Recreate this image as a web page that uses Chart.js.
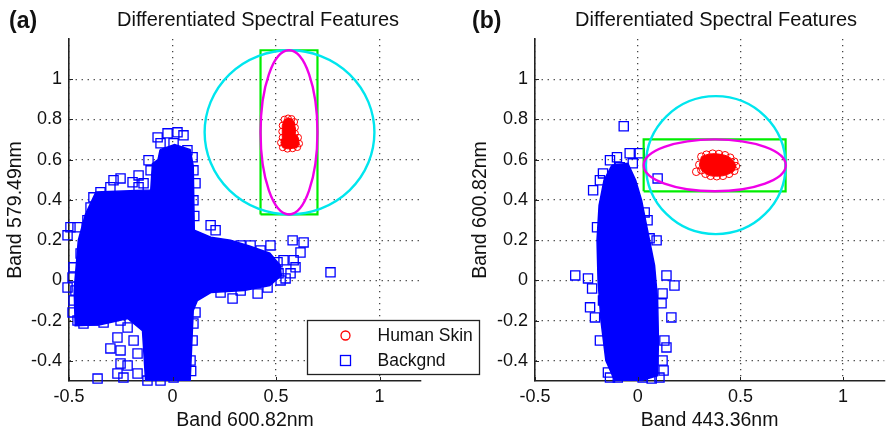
<!DOCTYPE html>
<html>
<head>
<meta charset="utf-8">
<script src="https://cdn.jsdelivr.net/npm/chart.js@4/dist/chart.umd.min.js"></script>
<style>
  html, body { margin: 0; padding: 0; background: #fff; }
  #wrap { position: relative; width: 892px; height: 434px; }
  #wrap canvas { position: absolute; left: 0; top: 0; }
</style>
</head>
<body>
<div id="wrap">
  <canvas id="panelA" width="892" height="434"></canvas>
  <canvas id="panelB" width="892" height="434"></canvas>
</div>
<script>
// ---- shared axis settings ----
const axisMin = -0.5;
const axisMax = 1.2;
const xTicks = [-0.5, 0, 0.5, 1];
const yTicks = [-0.4, -0.2, 0, 0.2, 0.4, 0.6, 0.8, 1];
const plotTitle = 'Differentiated Spectral Features';
const seriesNames = ['Human Skin', 'Backgnd'];

// ---- panel (a): Band 600.82nm vs Band 579.49nm ----
// outline of the dense background cloud
const bgCloudA = [
  [-0.06, 0.65], [0.01, 0.675], [0.085, 0.65], [0.10, 0.57], [0.105, 0.25],
  [0.185, 0.215], [0.28, 0.20], [0.375, 0.17], [0.47, 0.135], [0.52, 0.075],
  [0.525, 0.025], [0.47, -0.025], [0.345, -0.05], [0.185, -0.06], [0.12, -0.10],
  [0.10, -0.15], [0.085, -0.50], [-0.13, -0.50], [-0.145, -0.25], [-0.215, -0.19],
  [-0.35, -0.22], [-0.47, -0.225], [-0.475, -0.05], [-0.455, 0.20], [-0.42, 0.33],
  [-0.37, 0.44], [-0.105, 0.45], [-0.097, 0.58], [-0.07, 0.60]
];
// individual background samples around the cloud
const bgPointsA = [
  [-0.072, 0.711], [-0.024, 0.731], [0.024, 0.736], [0.053, 0.721], [-0.058, 0.682],
  [0.005, 0.682], [0.072, 0.647], [0.097, 0.612], [0.101, 0.547], [0.111, 0.483],
  [0.101, 0.398], [0.105, 0.32], [-0.116, 0.597], [-0.106, 0.547], [-0.164, 0.522],
  [-0.193, 0.488], [-0.251, 0.507], [-0.285, 0.498], [-0.300, 0.463], [-0.164, 0.463],
  [-0.140, 0.483], [-0.348, 0.438], [-0.382, 0.413], [-0.396, 0.363], [-0.411, 0.299],
  [-0.493, 0.264], [-0.459, 0.264], [-0.507, 0.224], [-0.420, 0.184], [-0.382, 0.164],
  [-0.444, 0.134], [-0.478, 0.065], [-0.483, 0.015], [-0.507, -0.035], [-0.469, -0.050],
  [-0.478, -0.100], [-0.483, -0.159], [-0.459, -0.199], [-0.430, -0.214], [-0.382, -0.199],
  [-0.333, -0.209], [-0.251, -0.199], [-0.217, -0.234], [-0.266, -0.284], [-0.300, -0.338],
  [-0.251, -0.348], [-0.188, -0.299], [-0.169, -0.363], [-0.251, -0.413], [-0.217, -0.423],
  [-0.266, -0.463], [-0.237, -0.483], [-0.362, -0.488], [-0.169, -0.463], [-0.121, -0.498],
  [-0.058, -0.498], [0.005, -0.483], [0.039, -0.463], [0.097, -0.299], [0.101, -0.214],
  [0.111, -0.159], [0.087, -0.398], [0.09, -0.45],
  [0.184, 0.274], [0.208, 0.249], [0.329, 0.174], [0.377, 0.174], [0.425, 0.149],
  [0.473, 0.174], [0.580, 0.199], [0.633, 0.189], [0.618, 0.139], [0.585, 0.100],
  [0.536, 0.100], [0.507, 0.090], [0.594, 0.065], [0.570, 0.035], [0.546, 0.010],
  [0.512, 0.035], [0.522, 0.000], [0.763, 0.040], [0.290, -0.090], [0.411, -0.065],
  [0.232, -0.060], [0.329, -0.050], [0.459, -0.035]
];
// boundary samples of the dense skin cluster (also its filled outline)
const skinCloudA = [
  [0.54, 0.80], [0.558, 0.806], [0.575, 0.803], [0.588, 0.788], [0.592, 0.76],
  [0.592, 0.73], [0.607, 0.71], [0.612, 0.68], [0.603, 0.662], [0.58, 0.656],
  [0.555, 0.654], [0.532, 0.661], [0.523, 0.685], [0.531, 0.71], [0.529, 0.74], [0.531, 0.77]
];
const skinPointsA = [
  [0.54, 0.80], [0.558, 0.806], [0.575, 0.803], [0.588, 0.788], [0.592, 0.76],
  [0.592, 0.73], [0.607, 0.71], [0.612, 0.68], [0.603, 0.662], [0.58, 0.656],
  [0.555, 0.654], [0.532, 0.661], [0.523, 0.685], [0.531, 0.71], [0.529, 0.74], [0.531, 0.77]
];
// decision regions: [centre x, centre y, radius x, radius y] and [x0, x1, y0, y1]
const ringA = [0.565, 0.736, 0.41, 0.408];
const ellipseA = [0.5625, 0.736, 0.1375, 0.408];
const boxA = [0.425, 0.70, 0.328, 1.144];

// ---- panel (b): Band 443.36nm vs Band 600.82nm ----
const bgCloudB = [
  [-0.126, 0.572], [-0.048, 0.582], [-0.010, 0.498], [0.019, 0.398], [0.048, 0.249],
  [0.082, 0.075], [0.097, -0.100], [0.101, -0.299], [0.097, -0.473], [0.010, -0.50],
  [-0.111, -0.50], [-0.155, -0.398], [-0.179, -0.199], [-0.193, 0.000], [-0.198, 0.199],
  [-0.188, 0.373], [-0.164, 0.498]
];
const bgPointsB = [
  [-0.068, 0.766], [0.097, 0.507], [-0.169, 0.532], [-0.217, 0.448], [-0.198, 0.264],
  [0.034, 0.338], [0.048, 0.299], [0.010, 0.632], [-0.039, 0.632], [-0.024, 0.582],
  [-0.101, 0.612], [-0.087, 0.562], [-0.135, 0.597], [-0.184, 0.498], [0.092, 0.199],
  [0.058, 0.209], [-0.304, 0.025], [-0.242, 0.010], [-0.222, -0.040], [-0.232, -0.134],
  [-0.208, -0.184], [0.140, 0.025], [0.179, -0.025], [0.121, -0.065], [0.116, -0.114],
  [0.164, -0.184], [0.130, -0.299], [0.140, -0.333], [0.121, -0.398], [-0.145, -0.458],
  [-0.097, -0.483], [0.106, -0.483], [0.024, -0.483], [-0.135, -0.483], [0.068, -0.488],
  [0.126, -0.448], [-0.184, -0.299], [-0.169, -0.100]
];
const skinCloudB = [
  [0.31, 0.615], [0.335, 0.625], [0.365, 0.63], [0.395, 0.628], [0.425, 0.622],
  [0.45, 0.61], [0.47, 0.59], [0.478, 0.568], [0.47, 0.545], [0.445, 0.53],
  [0.415, 0.52], [0.385, 0.518], [0.355, 0.52], [0.33, 0.53], [0.31, 0.548], [0.30, 0.575]
];
const skinPointsB = [
  [0.31, 0.615], [0.335, 0.625], [0.365, 0.63], [0.395, 0.628], [0.425, 0.622],
  [0.45, 0.61], [0.47, 0.59], [0.478, 0.568], [0.47, 0.545], [0.445, 0.53],
  [0.415, 0.52], [0.385, 0.518], [0.355, 0.52], [0.33, 0.53], [0.31, 0.548],
  [0.30, 0.575], [0.285, 0.54]
];
const ringB = [0.38, 0.573, 0.34, 0.343];
const ellipseB = [0.375, 0.572, 0.346, 0.129];
const boxB = [0.029, 0.72, 0.443, 0.701];

// ---- drawing ----
const FONT = '"Liberation Sans", Arial, Helvetica, sans-serif';
const INK = '#111';
const BLUE = '#0000ff';
const RED = '#ff0000';
const CYAN = '#00e6ee';
const MAGENTA = '#f000e8';
const GREEN = '#00ee00';
Chart.defaults.font.family = FONT;

const toXY = list => list.map(([x, y]) => ({ x, y }));
const closed = list => list.concat([list[0]]);
const boxPath = ([x0, x1, y0, y1]) => [[x0, y0], [x1, y0], [x1, y1], [x0, y1], [x0, y0]];

// ellipses and circles drawn in data units through the chart scales
const ringPlugin = {
  id: 'rings',
  afterDatasetsDraw(chart, args, opts) {
    const { ctx, scales: { x, y } } = chart;
    ctx.save();
    for (const r of opts.items || []) {
      const [cx, cy, rx, ry] = r.geom;
      const px = x.getPixelForValue(cx);
      const py = y.getPixelForValue(cy);
      const prx = Math.abs(x.getPixelForValue(cx + rx) - px);
      const pry = Math.abs(y.getPixelForValue(cy + ry) - py);
      ctx.beginPath();
      ctx.ellipse(px, py, prx, pry, 0, 0, Math.PI * 2);
      ctx.strokeStyle = r.color;
      ctx.lineWidth = r.width;
      ctx.stroke();
    }
    ctx.restore();
  }
};

// inward tick marks, panel tag and heading
const framePlugin = {
  id: 'frame',
  afterDraw(chart, args, opts) {
    const { ctx, chartArea: a, scales: { x, y } } = chart;
    ctx.save();
    ctx.strokeStyle = '#222';
    ctx.lineWidth = 1;
    ctx.beginPath();
    for (const v of xTicks) {
      const px = Math.round(x.getPixelForValue(v)) + 0.5;
      ctx.moveTo(px, a.bottom);
      ctx.lineTo(px, a.bottom - 4);
    }
    for (const v of yTicks) {
      const py = Math.round(y.getPixelForValue(v)) + 0.5;
      ctx.moveTo(a.left, py);
      ctx.lineTo(a.left + 4, py);
    }
    ctx.stroke();
    ctx.fillStyle = INK;
    ctx.textBaseline = 'middle';
    ctx.textAlign = 'left';
    ctx.font = 'bold 23px ' + FONT;
    ctx.fillText(opts.tag, opts.tagX, 22);
    ctx.textAlign = 'center';
    ctx.font = '20px ' + FONT;
    ctx.fillText(plotTitle, opts.titleX, 20);
    ctx.restore();
  }
};

// boxed key with both series
const keyPlugin = {
  id: 'key',
  afterDraw(chart, args, opts) {
    if (!opts.show) return;
    const { ctx } = chart;
    const [bx, by, bw, bh] = opts.box;
    ctx.save();
    ctx.fillStyle = '#fff';
    ctx.fillRect(bx, by, bw, bh);
    ctx.strokeStyle = '#222';
    ctx.lineWidth = 1.3;
    ctx.strokeRect(bx, by, bw, bh);
    const mx = bx + 38;
    const r1 = by + 15, r2 = by + 40;
    ctx.lineWidth = 1.3;
    ctx.strokeStyle = RED;
    ctx.beginPath();
    ctx.arc(mx, r1, 4.5, 0, Math.PI * 2);
    ctx.stroke();
    ctx.strokeStyle = BLUE;
    ctx.strokeRect(mx - 5, r2 - 5, 10, 10);
    ctx.fillStyle = INK;
    ctx.font = '17.5px ' + FONT;
    ctx.textAlign = 'left';
    ctx.textBaseline = 'middle';
    ctx.fillText(seriesNames[0], bx + 70, r1 + 1);
    ctx.fillText(seriesNames[1], bx + 70, r2 + 1);
    ctx.restore();
  }
};

function makePanel(id, p) {
  const tickFont = { size: 18 };
  return new Chart(document.getElementById(id), {
    type: 'scatter',
    data: {
      datasets: [
        {
          type: 'line', label: seriesNames[1], data: toXY(closed(p.bgCloud)),
          fill: 'shape', borderColor: BLUE, backgroundColor: BLUE, borderWidth: 1.5,
          pointRadius: 0, tension: 0, order: 6
        },
        {
          type: 'scatter', label: seriesNames[1], data: toXY(p.bgPoints),
          pointStyle: 'rect', pointRadius: 6.5, borderColor: BLUE,
          backgroundColor: 'rgba(0,0,0,0)', borderWidth: 1.3, clip: false, order: 5
        },
        {
          type: 'line', label: 'box', data: toXY(boxPath(p.box)),
          borderColor: GREEN, borderWidth: 2.2, pointRadius: 0, fill: false,
          tension: 0, order: 3
        },
        {
          type: 'line', label: seriesNames[0], data: toXY(closed(p.skinCloud)),
          fill: 'shape', borderColor: RED, backgroundColor: RED, borderWidth: 1,
          pointRadius: 0, tension: 0, order: 2
        },
        {
          type: 'scatter', label: seriesNames[0], data: toXY(p.skinPoints),
          pointStyle: 'circle', pointRadius: p.skinRadius, borderColor: RED,
          backgroundColor: 'rgba(0,0,0,0)', borderWidth: 1, order: 1
        }
      ]
    },
    options: {
      responsive: false,
      animation: false,
      events: [],
      layout: { padding: p.padding },
      scales: {
        x: {
          type: 'linear', min: axisMin, max: axisMax,
          afterBuildTicks: s => { s.ticks = xTicks.map(v => ({ value: v })); },
          afterFit: s => { s.height = 53; },
          grid: { color: '#444', lineWidth: 1.3, drawTicks: false },
          border: { display: true, color: '#222', width: 1.6, dash: [1.3, 4.7] },
          ticks: { font: tickFont, color: INK, padding: 5, maxRotation: 0, callback: v => String(v) },
          title: { display: true, text: p.xTitle, color: INK, font: { size: 19.5 }, padding: { top: 0, bottom: 2 } }
        },
        y: {
          type: 'linear', min: axisMin, max: axisMax,
          afterBuildTicks: s => { s.ticks = yTicks.map(v => ({ value: v })); },
          afterFit: s => { s.width = p.yWidth; },
          grid: { color: '#444', lineWidth: 1.3, drawTicks: false },
          border: { display: true, color: '#222', width: 1.6, dash: [1.3, 4.7] },
          ticks: { font: tickFont, color: INK, padding: 7, callback: v => String(v) },
          title: { display: true, text: p.yTitle, color: INK, font: { size: 19.5 }, padding: { top: p.yTitlePad, bottom: 0 } }
        }
      },
      plugins: {
        legend: { display: false },
        tooltip: { enabled: false },
        rings: {
          items: [
            { geom: p.ring, color: CYAN, width: 2.4 },
            { geom: p.ellipse, color: MAGENTA, width: 2.4 }
          ]
        },
        frame: { tag: p.tag, tagX: p.tagX, titleX: p.titleX },
        key: { show: !!p.key, box: p.key }
      }
    },
    plugins: [ringPlugin, framePlugin, keyPlugin]
  });
}

makePanel('panelA', {
  bgCloud: bgCloudA, bgPoints: bgPointsA, skinCloud: skinCloudA, skinPoints: skinPointsA,
  ring: ringA, ellipse: ellipseA, box: boxA, skinRadius: 3.3,
  xTitle: 'Band 600.82nm', yTitle: 'Band 579.49nm',
  padding: { left: 0, right: 471, top: 39, bottom: 0 }, yWidth: 69, yTitlePad: 4,
  tag: '(a)', tagX: 9, titleX: 258,
  key: [307.5, 320.5, 172, 54]
});

makePanel('panelB', {
  bgCloud: bgCloudB, bgPoints: bgPointsB, skinCloud: skinCloudB, skinPoints: skinPointsB,
  ring: ringB, ellipse: ellipseB, box: boxB, skinRadius: 3.8,
  xTitle: 'Band 443.36nm', yTitle: 'Band 600.82nm',
  padding: { left: 446, right: 5, top: 39, bottom: 0 }, yWidth: 89, yTitlePad: 23,
  tag: '(b)', tagX: 472, titleX: 716,
  key: null
});
</script>
</body>
</html>
